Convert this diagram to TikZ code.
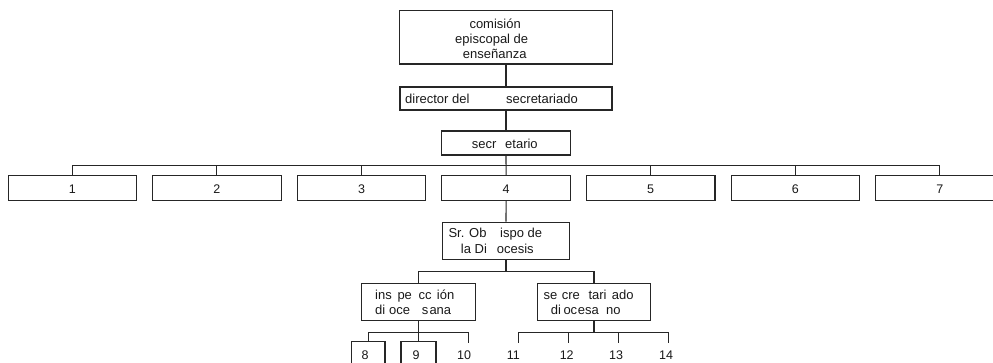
\documentclass[tikz,border=0pt]{standalone}
\usepackage{fontspec}
\setmainfont{Liberation Sans}
\begin{document}
\begin{tikzpicture}[x=1pt,y=-1pt,
  box/.style={draw=black!85, rectangle, inner sep=0pt, line width=1.1pt},
  txt/.style={inner sep=0pt, font=\fontsize{13}{15}\selectfont, anchor=base west, text=black!90},
  num/.style={inner sep=0pt, font=\fontsize{12.5}{15}\selectfont, anchor=base, text=black!90},
  conn/.style={draw=black!85, line width=1.1pt}]
\useasboundingbox (0,0) rectangle (993,363);
\clip (0,0) rectangle (993,363);

% boxes
\node[box, minimum width=213pt, minimum height=53.3pt] (top) at (506,37.4) {};
\node[box, minimum width=212pt, minimum height=23pt] (dir) at (506,98.5) {};
\node[box, minimum width=129pt, minimum height=24pt] (sec) at (506,143) {};
\foreach \i in {1,...,7}{
  \node[box, minimum width=128.5pt, minimum height=24.7pt] (b\i) at ({72.3+144.6*(\i-1)},188.3) {};
  \node[num] (n\i) at ({72.3+144.6*(\i-1)},193.3) {\i};
}
\node[box, minimum width=127pt, minimum height=37.5pt] (obispo) at (506,241) {};
\node[box, minimum width=114pt, minimum height=37.4pt] (insp) at (418.5,302) {};
\node[box, minimum width=113.4pt, minimum height=37.4pt] (secd) at (594,302) {};
\node[box, minimum width=33.3pt, minimum height=36.3pt] (box8) at (368.3,359.85) {};
\node[box, minimum width=35pt, minimum height=36.3pt] (box9) at (418.5,359.85) {};

% connectors
\draw[conn] (top.south) -- (dir.north);
\draw[conn] (dir.south) -- (sec.north);
\coordinate (bus1) at (506,165.7);
\draw[conn] (sec.south) -- (b4.north);
\draw[conn] (b1.north) |- (bus1) -| (b7.north);
\foreach \i in {2,3,5,6}{ \draw[conn] (b\i.north) -- (b\i.north |- bus1); }
\draw[conn] (b4.south) -- (obispo.north);
\coordinate (bus2) at (506,271.7);
\draw[conn] (obispo.south) -- (bus2);
\draw[conn] (insp.north) |- (bus2) -| (secd.north);
\coordinate (bus3) at (418.5,332.7);
\coordinate (c10) at (468.3,342.7);
\draw[conn] (insp.south) -- (box9.north);
\draw[conn] (box8.north) |- (bus3) -| (c10);
\coordinate (bus4) at (594,332.7);
\coordinate (c11) at (518.3,342.7);
\coordinate (c12) at (568.3,342.7);
\coordinate (c13) at (618.3,342.7);
\coordinate (c14) at (668.3,342.7);
\draw[conn] (secd.south) -- (bus4);
\draw[conn] (c11) |- (bus4) -| (c14);
\draw[conn] (c12) -- (c12 |- bus4);
\draw[conn] (c13) -- (c13 |- bus4);

% numbers below
\node[num] (n8) at (365,359.3) {8};
\node[num] (n9) at (416,359.3) {9};
\node[num] (n10) at (464,359.3) {10};
\node[num] (n11) at (513.3,359.3) {11};
\node[num] (n12) at (566.7,359.3) {12};
\node[num] (n13) at (616,359.3) {13};
\node[num] (n14) at (666,359.3) {14};

% texts
\node[txt] (ta1) at (469.3,28.3) {comisión};
\node[txt] (ta2) at (455,43.3) {episcopal de};
\node[txt] (ta3) at (462.7,58.3) {enseñanza};
\node[txt] (td1) at (405,103.3) {director del};
\node[txt] (td2) at (506,103.3) {secretariado};
\node[txt] (ts1) at (471.7,149) {secr};
\node[txt] (ts2) at (505,149) {etario};
\node[txt] (to1) at (448.3,238) {Sr. Ob};
\node[txt] (to2) at (500,238) {ispo de};
\node[txt] (to3) at (460.7,253.5) {la Di};
\node[txt] (to4) at (496.7,253.5) {ocesis};
\node[txt] (ti1) at (375,299) {ins};
\node[txt] (ti2) at (397.3,299) {pe};
\node[txt] (ti3) at (418.3,299) {cc};
\node[txt] (ti4) at (436.7,299) {ión};
\node[txt] (ti5) at (375,314) {di};
\node[txt] (ti6) at (389,314) {oce};
\node[txt] (ti7) at (421.7,314) {s};
\node[txt] (ti8) at (429.3,314) {ana};
\node[txt] (tc1) at (543.3,300) {se};
\node[txt] (tc2) at (561.7,300) {cre};
\node[txt] (tc3) at (588.3,300) {tari};
\node[txt] (tc4) at (611.7,300) {ado};
\node[txt] (tc5) at (550.7,314.3) {di};
\node[txt] (tc6) at (563.3,314.3) {oc};
\node[txt] (tc7) at (577.7,314.3) {esa};
\node[txt] (tc8) at (606,314.3) {no};
\end{tikzpicture}
\end{document}
